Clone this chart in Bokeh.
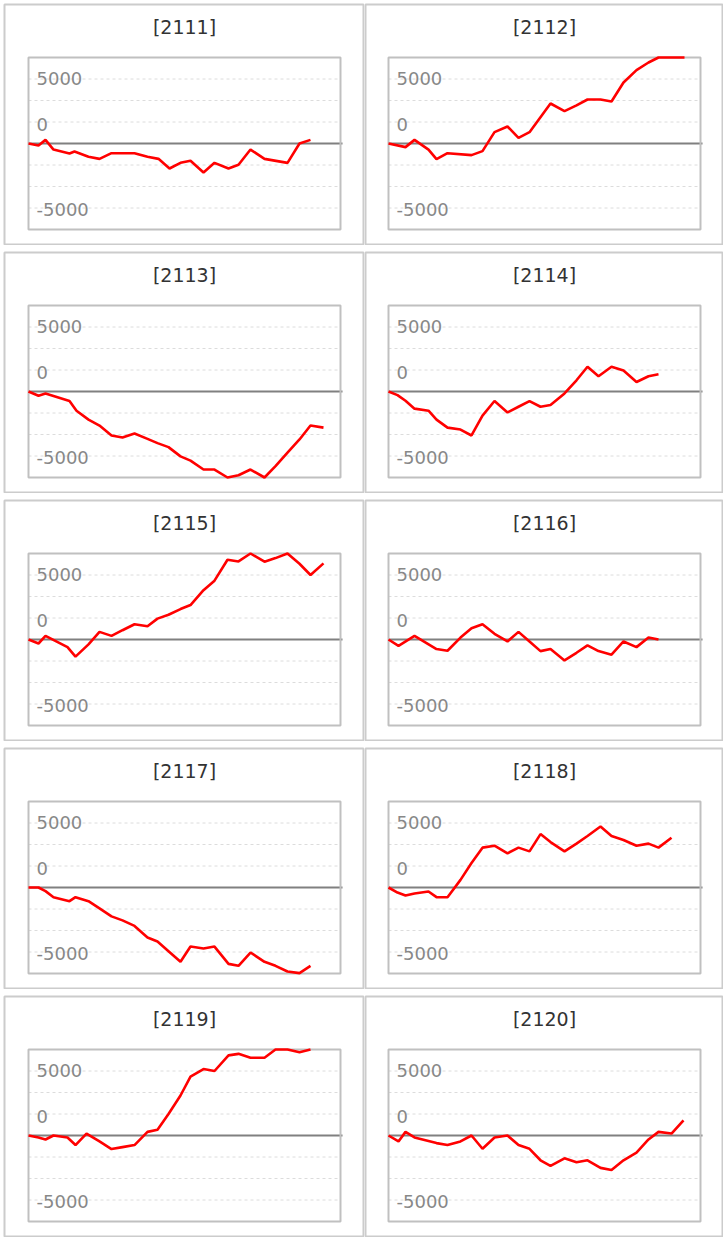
import numpy as np
from bokeh.plotting import figure
from bokeh.layouts import column, row
from bokeh.models import Range1d, ColumnDataSource
from bokeh.core.properties import value
from bokeh.embed import file_html
from bokeh.resources import INLINE

# ---------------- data ----------------
machines = ["2111", "2112", "2113", "2114", "2115", "2116", "2117", "2118", "2119", "2120"]

x_2111 = [0, 10, 17, 25, 41, 46, 60, 71, 83, 106, 119, 130, 141, 152, 162, 175, 186, 200, 210, 222, 236, 259, 271, 282]
y_2111 = [0, -150, 280, -470, -780, -620, -1030, -1190, -750, -750, -1030, -1190, -1940, -1500, -1340, -2250, -1500, -1940, -1650, -470, -1190, -1500, 0, 280]

x_2112 = [0, 17, 26, 40, 48, 59, 83, 94, 106, 119, 130, 141, 162, 176, 188, 199, 212, 223, 235, 248, 260, 270, 296]
y_2112 = [0, -280, 280, -470, -1210, -750, -900, -590, 880, 1320, 440, 880, 3100, 2510, 2950, 3410, 3410, 3260, 4730, 5690, 6280, 6750, 7300]

x_2113 = [0, 10, 17, 41, 48, 60, 71, 83, 94, 106, 119, 129, 140, 152, 162, 175, 186, 199, 210, 222, 236, 247, 259, 271, 282, 295]
y_2113 = [0, -330, -150, -740, -1490, -2180, -2640, -3410, -3560, -3260, -3670, -4000, -4310, -5030, -5360, -6050, -6050, -6750, -6490, -6050, -6750, -5790, -4740, -3720, -2640, -2800]

x_2114 = [0, 9, 17, 26, 40, 48, 59, 72, 83, 94, 106, 119, 130, 141, 152, 162, 176, 188, 199, 210, 223, 235, 248, 260, 270]
y_2114 = [0, -280, -720, -1330, -1490, -2180, -2800, -2950, -3410, -1870, -740, -1620, -1180, -740, -1180, -1050, -150, 870, 1920, 1180, 1920, 1620, 740, 1180, 1330]

x_2115 = [0, 10, 17, 39, 47, 60, 71, 83, 94, 106, 119, 129, 140, 152, 162, 175, 186, 199, 210, 222, 236, 247, 259, 271, 282, 295]
y_2115 = [0, -310, 280, -590, -1330, -380, 590, 280, 720, 1180, 1030, 1620, 1920, 2360, 2670, 3820, 4560, 6180, 6050, 6800, 6030, 6310, 6750, 5870, 5000, 5900]

x_2116 = [0, 10, 26, 48, 59, 72, 83, 94, 106, 119, 130, 141, 152, 162, 176, 188, 199, 210, 223, 235, 248, 260, 270]
y_2116 = [0, -490, 280, -740, -870, 150, 870, 1180, 440, -150, 590, -150, -900, -740, -1620, -1030, -460, -900, -1180, -150, -590, 150, 0]

x_2117 = [0, 10, 17, 25, 41, 47, 60, 71, 83, 94, 106, 119, 129, 140, 152, 162, 175, 186, 200, 210, 222, 236, 247, 259, 271, 282]
y_2117 = [0, 0, -280, -750, -1060, -750, -1060, -1620, -2240, -2550, -2980, -3880, -4190, -4940, -5760, -4580, -4730, -4580, -5920, -6070, -5040, -5760, -6070, -6510, -6640, -6070]

x_2118 = [0, 9, 17, 26, 40, 48, 59, 72, 83, 94, 106, 119, 130, 141, 152, 162, 176, 188, 199, 212, 223, 235, 248, 260, 270, 283]
y_2118 = [0, -390, -620, -460, -310, -750, -750, 590, 1900, 3090, 3240, 2650, 3090, 2800, 4140, 3520, 2800, 3400, 3990, 4730, 3990, 3680, 3240, 3400, 3090, 3860]

x_2119 = [0, 10, 17, 25, 39, 47, 58, 71, 83, 94, 106, 119, 129, 140, 152, 162, 175, 186, 200, 210, 222, 236, 247, 259, 271, 282]
y_2119 = [0, -150, -310, 0, -150, -740, 150, -460, -1050, -900, -740, 280, 440, 1670, 3100, 4560, 5150, 5000, 6210, 6330, 6030, 6030, 6800, 6850, 6460, 6750]

x_2120 = [0, 10, 17, 26, 48, 59, 72, 83, 94, 106, 119, 130, 141, 152, 162, 176, 188, 199, 212, 223, 235, 248, 260, 270, 283, 295]
y_2120 = [0, -460, 280, -150, -590, -740, -460, 0, -1030, -150, 0, -740, -1030, -1920, -2360, -1770, -2080, -1920, -2510, -2670, -1920, -1330, -310, 280, 150, 1180]

series_x = [x_2111, x_2112, x_2113, x_2114, x_2115, x_2116, x_2117, x_2118, x_2119, x_2120]
series_y = [y_2111, y_2112, y_2113, y_2114, y_2115, y_2116, y_2117, y_2118, y_2119, y_2120]

tick_labels = ["5000", "0", "-5000"]

# ---------------- geometry / styling ----------------
Y_MAX = 20000 / 3.0          # four grid steps of 5000/3 above and below zero
GRID_STEP = 5000 / 3.0
X_MAX = 312                  # inner plot width in px (1 unit per px)
PLOT_H = 172                 # inner plot height in px
U = 2 * Y_MAX / PLOT_H       # data units per px (vertical)
BOX_H = 242
PAD_TOP = 53                 # px from box frame top to inner plot top
PAD_BOTTOM = 15
label_anchor = {"5000": 5000, "0": GRID_STEP, "-5000": -5000}
label_nudge = {"5000": -1, "0": 2.5, "-5000": 1.5}   # px, positive = down
TITLE_FROM_TOP = 23          # px from box top to title centre


def make_panel(i, left):
    if left:
        w, pad_l = 361, 24
    else:
        w, pad_l = 359, 23
    fw = w - 2
    x0 = -pad_l
    x1 = x0 + fw
    y1 = Y_MAX + PAD_TOP * U
    y0 = -Y_MAX - PAD_BOTTOM * U
    p = figure(width=w, height=BOX_H, output_backend="svg", toolbar_location=None,
               x_axis_location=None, y_axis_location=None,
               x_range=Range1d(x0, x1), y_range=Range1d(y0, y1),
               min_border_left=1, min_border_right=1,
               min_border_top=1, min_border_bottom=1,
               background_fill_color="white", border_fill_color="white",
               outline_line_color="#cccccc", outline_line_width=2)
    p.xgrid.visible = False
    p.ygrid.visible = False

    # title
    p.text(x=[X_MAX / 2], y=[y1 - (TITLE_FROM_TOP - 1) * U], text=["[" + machines[i] + "]"],
           text_font=value("DejaVu Sans"), text_font_size="19px",
           text_color="#333333", text_baseline="middle", text_align="center")

    # dashed grid lines
    gy = [k * GRID_STEP for k in range(-3, 4) if k != 0]
    p.segment(x0=[0] * len(gy), x1=[X_MAX] * len(gy), y0=gy, y1=gy,
              line_color="#dcdcdc", line_width=1, line_dash="3 3")
    # zero line
    p.segment(x0=[0], x1=[X_MAX + 2], y0=[0], y1=[0], line_color="#808080", line_width=2)

    # inner plot frame
    p.quad(left=[0], right=[X_MAX], bottom=[-Y_MAX], top=[Y_MAX],
           fill_color=None, line_color="#c0c0c0", line_width=2)

    # tick texts
    ys = [label_anchor[t] - label_nudge[t] * U for t in tick_labels]
    src = ColumnDataSource(dict(x=[0] * len(tick_labels), y=ys, t=tick_labels))
    p.text(x="x", y="y", text="t", source=src, x_offset=8,
           text_font=value("DejaVu Sans"), text_font_size="18px",
           text_color="#888888", text_baseline="middle", text_align="left")

    # series (values beyond the plot range are clamped to its edge)
    yv = np.clip(np.array(series_y[i], dtype=float), -Y_MAX, Y_MAX)
    p.line(series_x[i], yv, line_color="#ff0000", line_width=2.6)
    return p


rows = []
for r in range(5):
    rows.append(row(make_panel(2 * r, True), make_panel(2 * r + 1, False), spacing=0))

layout = column(*rows, spacing=6, styles={"margin-left": "3px", "margin-top": "3px"})

open("out.html", "w").write(file_html(layout, INLINE))
